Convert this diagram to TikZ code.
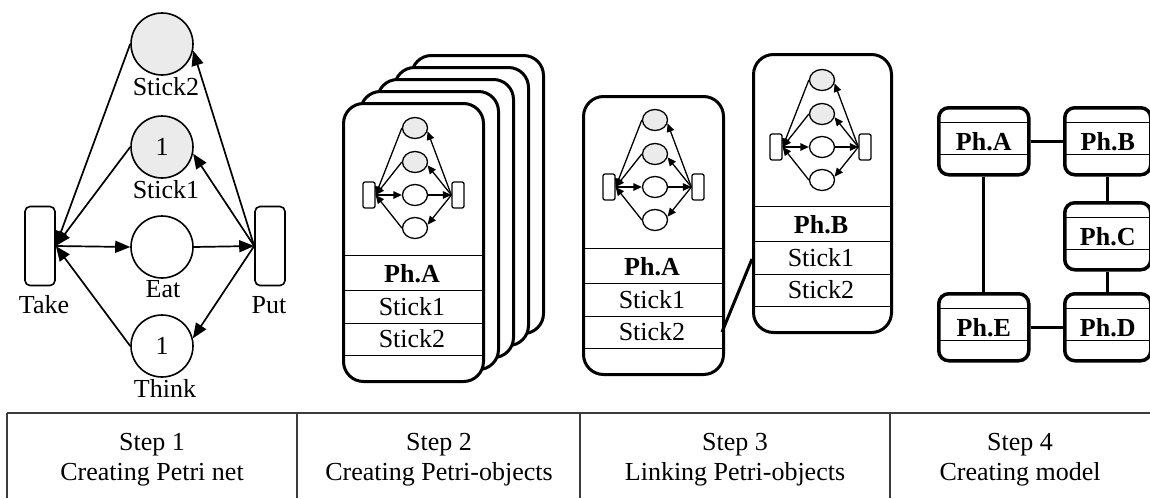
\documentclass[tikz,border=0pt]{standalone}
\usepackage{fontspec}
\setmainfont{Liberation Serif}
\usetikzlibrary{arrows.meta,shapes.geometric}
\definecolor{stickgray}{RGB}{235,235,235}
\definecolor{tablegray}{RGB}{60,60,60}
\newcommand\mininet[3]{%
  \node[mplace,fill=stickgray] (#1s2) at (#2,#3-67) {};
  \node[mplace,fill=stickgray] (#1s1) at (#2,#3-33) {};
  \node[mplace] (#1e) at (#2,#3) {};
  \node[mplace] (#1t) at (#2,#3+33) {};
  \node[mtrans] (#1tk) at (#2-46,#3) {};
  \node[mtrans] (#1pt) at (#2+43,#3) {};
  \draw[marc] (#1s2.west) -- (#1tk.east);
  \draw[marc] (#1s1.west) -- (#1tk.east);
  \draw[marc] (#1t.west) -- (#1tk.east);
  \draw[marc] (#1tk.east) -- (#1e.west);
  \draw[marc] (#1e.east) -- (#1pt.west);
  \draw[marc] (#1pt.west) -- (#1s1.-15);
  \draw[marc] (#1pt.west) -- (#1s2.-15);
  \draw[marc] (#1pt.west) -- (#1t.15);
}
\begin{document}
\begin{tikzpicture}[x=1pt,y=-1pt,
  every node/.style={font=\fontsize{26}{30}\selectfont},
  place/.style={circle,draw,line width=1.6pt,minimum size=62pt,inner sep=0pt},
  stick/.style={place,fill=stickgray},
  trans/.style={draw,line width=1.6pt,rounded corners=5pt,minimum width=30pt,minimum height=79pt,inner sep=0pt},
  arc/.style={line width=1.7pt,-{Triangle[length=15pt,width=12pt]}},
  lbl/.style={anchor=base,inner sep=0pt},
  mplace/.style={ellipse,draw,line width=1.3pt,minimum width=25pt,minimum height=21pt,inner sep=0pt},
  mtrans/.style={draw,line width=1.3pt,rounded corners=2pt,minimum width=12pt,minimum height=26pt,inner sep=0pt},
  marc/.style={line width=1.3pt,-{Triangle[length=8.5pt,width=7.5pt]}},
  card/.style={draw,fill=white,line width=3pt,rounded corners=20pt,inner sep=0pt,anchor=north west,minimum height=278pt},
  rowline/.style={line width=1pt},
  link/.style={line width=3pt},
  pbox/.style={draw,fill=white,line width=3.5pt,rounded corners=10pt,inner sep=0pt,anchor=north west,minimum height=67pt,font=\fontsize{26}{30}\selectfont\bfseries},
  tline/.style={line width=1.3pt,draw=tablegray}
]
\useasboundingbox (0,0) rectangle (1150,498);

% ---------- Step 1: Petri net ----------
\node[stick] (s2) at (162,44) {};
\node[stick] (s1) at (162,147) {1};
\node[place] (eat) at (162,247) {};
\node[place] (think) at (162,346) {1};
\node[trans] (take) at (40,246) {};
\node[trans] (put) at (270,246) {};
\node[lbl] (ls2) at (166,95) {Stick2};
\node[lbl] (ls1) at (166,198) {Stick1};
\node[lbl] (leat) at (163,297) {Eat};
\node[lbl] (lthink) at (165,397) {Think};
\node[lbl] (ltake) at (44,313) {Take};
\node[lbl] (lput) at (269,313) {Put};
\draw[arc] (s2.west) -- (take.east);
\draw[arc] (s1.west) -- (take.east);
\draw[arc] (think.west) -- (take.east);
\draw[arc] (take.east) -- (eat.west);
\draw[arc] (eat.east) -- (put.west);
\draw[arc] (put.west) -- (s1.-12);
\draw[arc] (put.west) -- (s2.-12);
\draw[arc] (put.west) -- (think.14);

% ---------- Step 2: Petri-objects ----------
\node[card,minimum width=132pt] (c4) at (410,54) {};
\node[card,minimum width=134pt] (c3) at (393,66) {};
\node[card,minimum width=136pt] (c2) at (376,78) {};
\node[card,minimum width=138pt] (c1) at (359,90) {};
\node[card,minimum width=140pt] (c0) at (342,102) {};
\draw[rowline] (342,255) -- (482,255);
\draw[rowline] (342,290) -- (482,290);
\draw[rowline] (342,323) -- (482,323);
\draw[rowline] (342,355) -- (482,355);
\node[lbl] (c0n) at (412,282) {\textbf{Ph.A}};
\node[lbl] (c0a) at (412,315) {Stick1};
\node[lbl] (c0b) at (412,347) {Stick2};
\mininet{m0}{415}{195}

% ---------- Step 3: linking ----------
\node[card,minimum width=140pt] (cA) at (582,95) {};
\draw[rowline] (582,248) -- (722,248);
\draw[rowline] (582,283) -- (722,283);
\draw[rowline] (582,316) -- (722,316);
\draw[rowline] (582,348) -- (722,348);
\node[lbl] (cAn) at (652,275) {\textbf{Ph.A}};
\node[lbl] (cAa) at (652,308) {Stick1};
\node[lbl] (cAb) at (652,340) {Stick2};
\mininet{mA}{655}{187}

\node[card,minimum width=138pt] (cB) at (752,53) {};
\draw[rowline] (752,206) -- (890,206);
\draw[rowline] (752,241) -- (890,241);
\draw[rowline] (752,274) -- (890,274);
\draw[rowline] (752,306) -- (890,306);
\node[lbl] (cBn) at (821,233) {\textbf{Ph.B}};
\node[lbl] (cBa) at (821,266) {Stick1};
\node[lbl] (cBb) at (821,298) {Stick2};
\mininet{mB}{822}{147}

\coordinate (la) at (722,332);
\coordinate (lb) at (752,259);
\draw[link] (la) -- (lb);

% ---------- Step 4: model ----------
\node[pbox,minimum width=90pt] (pa) at (937,106) {Ph.A};
\node[pbox,minimum width=86pt] (pb) at (1063,106) {Ph.B};
\node[pbox,minimum width=86pt] (pc) at (1063,201) {Ph.C};
\node[pbox,minimum width=86pt] (pd) at (1063,292) {Ph.D};
\node[pbox,minimum width=90pt] (pe) at (937,292) {Ph.E};
\foreach \t in {106,201,292} {
  \draw[rowline] (1063,\t+16) -- (1149,\t+16);
  \draw[rowline] (1063,\t+48) -- (1149,\t+48);
}
\foreach \t in {106,292} {
  \draw[rowline] (937,\t+16) -- (1027,\t+16);
  \draw[rowline] (937,\t+48) -- (1027,\t+48);
}
\draw[link] (pa.east) -- (pb.west);
\draw[link] (pa.south) -- (pe.north);
\draw[link] (pb.south) -- (pc.north);
\draw[link] (pc.south) -- (pd.north);
\draw[link] (pe.east) -- (pd.west);

% ---------- Table ----------
\draw[tline] (7,413) -- (1150,413);
\draw[tline] (7,413) -- (7,498);
\draw[tline] (297,413) -- (297,498);
\draw[tline] (580,413) -- (580,498);
\draw[tline] (890,413) -- (890,498);
\node[lbl] (t1a) at (152,450) {Step 1};
\node[lbl] (t1b) at (152,480) {Creating Petri net};
\node[lbl] (t2a) at (439,450) {Step 2};
\node[lbl] (t2b) at (439,480) {Creating Petri-objects};
\node[lbl] (t3a) at (735,450) {Step 3};
\node[lbl] (t3b) at (735,480) {Linking Petri-objects};
\node[lbl] (t4a) at (1020,450) {Step 4};
\node[lbl] (t4b) at (1020,480) {Creating model};
\end{tikzpicture}
\end{document}
